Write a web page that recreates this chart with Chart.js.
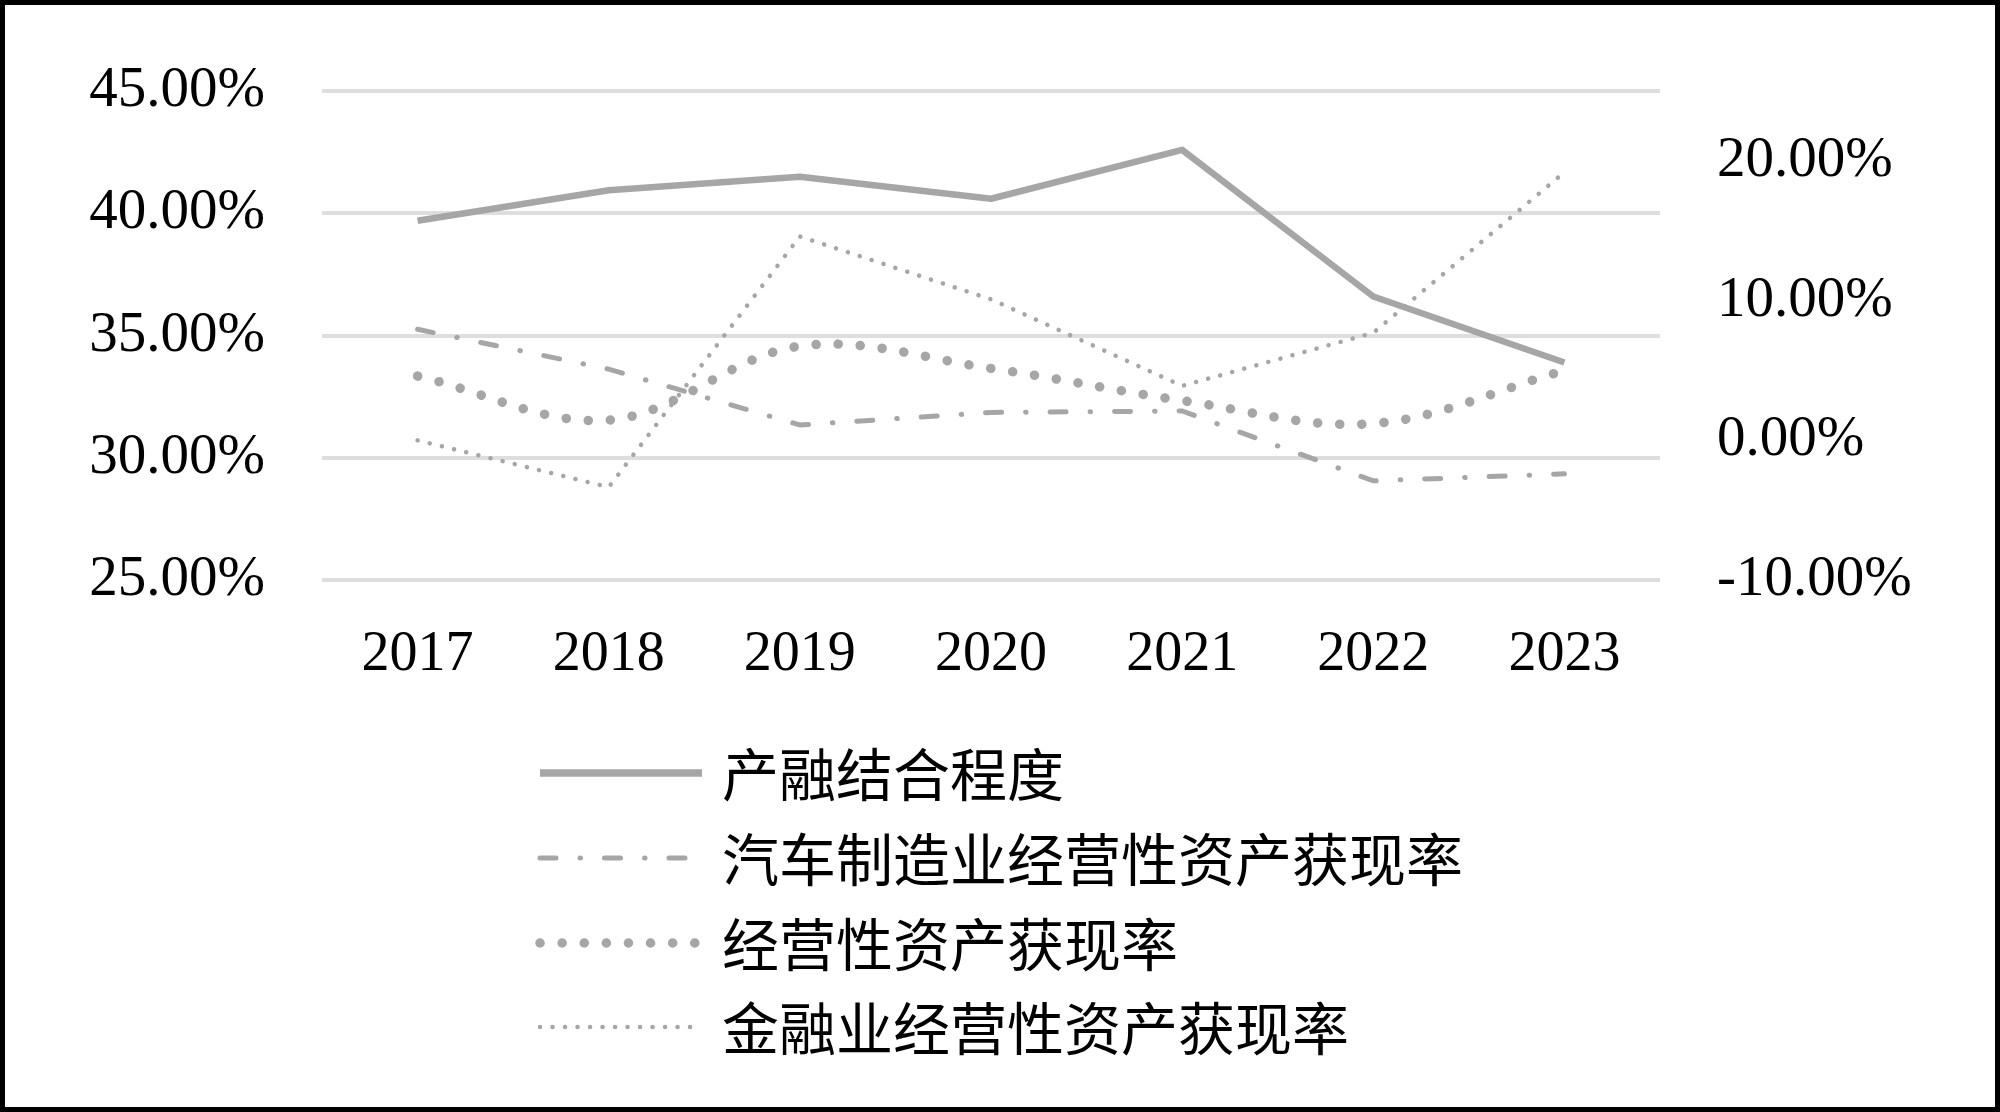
<!DOCTYPE html>
<html>
<head>
<meta charset="utf-8">
<script src="https://cdn.jsdelivr.net/npm/chart.js@4.4.1/dist/chart.umd.min.js"></script>
<style>
  html, body { margin: 0; padding: 0; background: #fff; }
  canvas { display: block; }
</style>
</head>
<body>
<canvas id="myChart" width="2000" height="1112"></canvas>
<script>
// data (percent)
const years = ['2017', '2018', '2019', '2020', '2021', '2022', '2023'];
const integration = [39.7, 40.95, 41.5, 40.6, 42.6, 36.6, 33.9];   // 产融结合程度 (left axis)
const autoCashRate = [7.95, 5.1, 1.1, 2.0, 2.1, -2.9, -2.4];       // 汽车制造业经营性资产获现率
const opCashRate = [4.6, 1.45, 6.75, 5.15, 2.85, 1.2, 5.0];        // 经营性资产获现率
const finCashRate = [0.0, -3.35, 14.6, 10.1, 3.9, 7.7, 19.2];      // 金融业经营性资产获现率

const leftTicks = [25, 30, 35, 40, 45];
const rightTicks = [-10, 0, 10, 20];

const seriesNames = ['产融结合程度', '汽车制造业经营性资产获现率', '经营性资产获现率', '金融业经营性资产获现率'];

const gray = '#a6a6a6';
const serif = '"Liberation Serif", "Times New Roman", serif';

const pct = v => v.toFixed(2) + '%';

const framePlugin = {
    id: 'frame',
    beforeDraw(chart) {
        const c = chart.ctx;
        c.save();
        c.fillStyle = '#fff';
        c.fillRect(0, 0, chart.width, chart.height);
        c.restore();
    },
    afterDraw(chart) {
        const c = chart.ctx;
        c.save();
        // legend, one item per row
        const rows = [773, 858, 943, 1027];
        chart.data.datasets.forEach((ds, i) => {
            const y = rows[i];
            c.strokeStyle = ds.borderColor;
            c.lineWidth = ds.legendWidth || ds.borderWidth;
            c.lineCap = ds.borderCapStyle || 'butt';
            c.setLineDash(ds.borderDash || []);
            c.beginPath();
            c.moveTo(540, y);
            c.lineTo(702, y);
            c.stroke();
            c.setLineDash([]);
            c.fillStyle = '#000';
            c.font = '57px "Liberation Serif", "Noto Sans CJK SC", serif';
            c.textBaseline = 'middle';
            c.textAlign = 'left';
            c.fillText(ds.label, 722, y + 8);
        });
        // outer frame
        c.strokeStyle = '#000';
        c.lineWidth = 5;
        c.strokeRect(2.5, 2.5, chart.width - 5, chart.height - 5);
        c.restore();
    }
};

const ctx = document.getElementById('myChart');

new Chart(ctx, {
    type: 'line',
    data: {
        labels: years,
        datasets: [{
            label: seriesNames[0],
            data: integration,
            yAxisID: 'y',
            borderColor: gray,
            borderWidth: 6.5,
            legendWidth: 7.5,
            borderJoinStyle: 'round',
            pointRadius: 0
        }, {
            label: seriesNames[1],
            data: autoCashRate,
            yAxisID: 'y1',
            borderColor: gray,
            borderWidth: 5,
            borderCapStyle: 'round',
            borderDash: [16, 24, 0.5, 24],
            pointRadius: 0
        }, {
            label: seriesNames[2],
            data: opCashRate,
            yAxisID: 'y1',
            borderColor: gray,
            borderWidth: 9.5,
            borderCapStyle: 'round',
            borderDash: [0.1, 22],
            tension: 0.35,
            pointRadius: 0
        }, {
            label: seriesNames[3],
            data: finCashRate,
            yAxisID: 'y1',
            borderColor: gray,
            borderWidth: 4.5,
            borderCapStyle: 'round',
            borderDash: [0.1, 12.4],
            pointRadius: 0
        }]
    },
    options: {
        responsive: false,
        animation: false,
        devicePixelRatio: 1,
        layout: { padding: { top: 89, left: 0, right: 0, bottom: 0 } },
        plugins: {
            legend: { display: false },
            tooltip: { enabled: false }
        },
        scales: {
            x: {
                offset: true,
                grid: { display: false, drawTicks: false },
                border: { display: false },
                ticks: { color: '#000', font: { family: serif, size: 56 }, padding: 42 },
                afterFit(s) { s.height = 532; }
            },
            y: {
                position: 'left',
                min: 25,
                max: 45,
                grid: { color: '#dedede', lineWidth: 4, drawTicks: false },
                border: { display: false },
                ticks: { color: '#000', font: { family: serif, size: 57 }, padding: 57, callback: pct },
                afterBuildTicks(s) { s.ticks = leftTicks.map(v => ({ value: v })); },
                afterFit(s) { s.width = 322; }
            },
            y1: {
                position: 'right',
                min: -10,
                max: 25,
                grid: { drawOnChartArea: false, drawTicks: false },
                border: { display: false },
                ticks: { color: '#000', font: { family: serif, size: 57 }, padding: 57, callback: pct },
                afterBuildTicks(s) { s.ticks = rightTicks.map(v => ({ value: v })); },
                afterFit(s) { s.width = 340; }
            }
        }
    },
    plugins: [framePlugin]
});
</script>
</body>
</html>
